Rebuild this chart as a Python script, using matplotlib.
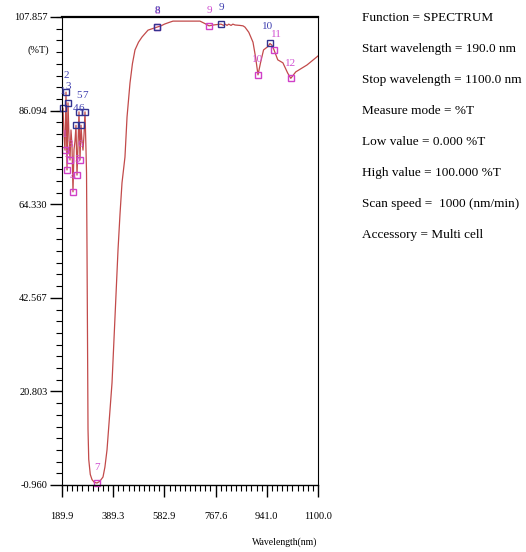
import numpy as np
from matplotlib import pyplot as plt
from matplotlib.ticker import FixedLocator, AutoMinorLocator

plt.rcParams['font.family'] = ['Liberation Serif', 'DejaVu Serif']

# ----- DATA ----- #

# Spectrum trace (wavelength [nm], transmittance [%T])
wl = [189.9, 193.8, 197.7, 201.6, 205.5, 209.4, 213.3, 217.2, 221.1, 224.9,
      228.8, 232.7, 236.6, 240.5, 244.4, 248.3, 252.2, 256.1, 260.0, 263.9,
      267.8, 271.7, 275.6, 279.5, 283.4, 285.4, 287.3, 289.5, 291.2, 294.0,
      300.0, 306.7, 315.0, 326.2, 337.0, 349.6, 357.0, 365.2, 375.0, 384.7,
      396.1, 407.5, 415.0, 422.6, 433.8, 441.6, 452.8, 462.0, 471.7, 485.0,
      498.2, 520.9, 540.0, 554.8, 570.0, 582.9, 600.0, 613.9, 639.2, 670.0,
      711.2, 730.0, 743.7, 760.0, 772.0, 785.8, 795.0, 800.0, 806.3, 812.0,
      820.0, 826.0, 833.3, 850.0, 860.4, 867.1, 880.0, 894.2, 903.0, 911.2,
      920.0, 930.0, 944.7, 950.9, 957.0, 963.4, 975.0, 991.0, 1006.0, 1015.5,
      1031.0, 1065.8, 1096.8, 1100.0]
T = [83.9, 86.7, 80.4, 76.9, 90.4, 72.3, 87.9, 80.0, 74.6, 81.6,
     78.1, 67.2, 77.0, 79.0, 82.7, 71.1, 78.0, 85.8, 74.6, 82.7,
     79.0, 76.9, 80.5, 85.8, 76.9, 71.6, 53.7, 30.4, 12.0, 5.0,
     1.5, 0.3, -0.3, -0.5, -0.1, 0.9, 3.2, 7.2, 15.0, 22.8,
     38.1, 53.7, 62.0, 69.3, 75.3, 84.6, 92.5, 97.0, 100.2, 102.0,
     103.2, 104.8, 105.2, 105.5, 105.8, 106.2, 106.6, 106.9, 106.9, 106.9,
     106.9, 106.3, 105.8, 106.0, 106.1, 106.2, 105.9, 106.2, 105.9, 106.2,
     105.9, 106.2, 106.0, 105.9, 105.8, 105.5, 104.3, 102.0, 98.5, 94.4,
     97.3, 100.2, 101.0, 101.7, 101.3, 100.2, 97.9, 97.2, 94.8, 93.6,
     95.1, 96.7, 98.6, 98.8]

# Peak picks (blue) and valley picks (magenta)
peak_wl = [193.8, 205.5, 213.3, 244.4, 256.1, 263.9, 279.5, 554.8, 785.8, 950.9]
peak_T = [86.7, 90.4, 87.9, 82.7, 85.8, 82.7, 85.8, 105.5, 106.2, 101.7]
valley_wl = [201.6, 209.4, 221.1, 232.7, 248.3, 260.0, 326.2, 556.8, 743.7, 911.2, 963.4, 1015.5]
valley_T = [76.9, 72.3, 74.6, 67.2, 71.1, 74.6, -0.5, 105.5, 105.8, 94.4, 100.2, 93.6]

x_ticks = [189.9, 389.3, 582.9, 767.6, 941.0, 1100.0]
y_ticks = [-0.960, 20.803, 42.567, 64.330, 86.094, 107.857]

info = ['Function = SPECTRUM',
        'Start wavelength = 190.0 nm',
        'Stop wavelength = 1100.0 nm',
        'Measure mode = %T',
        'Low value = 0.000 %T',
        'High value = 100.000 %T',
        'Scan speed =  1000 (nm/min)',
        'Accessory = Multi cell']

# ----- PLOT ----- #

tick_pos = np.arange(len(x_ticks))


def fwd(x):
    return np.interp(x, x_ticks, tick_pos)


def inv(p):
    return np.interp(p, tick_pos, x_ticks)


fig = plt.figure(figsize=(5.26, 5.52), dpi=100)
ax = fig.add_axes([62/526, 67/552, 256/526, 468/552])
ax.set_xscale('function', functions=(fwd, inv))

ax.plot(wl, T, color='#c24a4a', lw=0.9)

ax.plot(valley_wl, valley_T, 's', mfc='none', mec='#d040c8', ms=4, mew=1.0, clip_on=False)
ax.plot(peak_wl, peak_T, 's', mfc='none', mec='#33338f', ms=4, mew=1.0, clip_on=False)

for i, (x, y) in enumerate(zip(valley_wl, valley_T)):
    dx = 2 if i == 10 else 0
    ax.annotate(str(i + 1), (x, y), xytext=(dx, 11), textcoords='offset points',
                ha='center', va='center', fontsize=8, color='#d050d0', annotation_clip=False)
for i, (x, y) in enumerate(zip(peak_wl, peak_T)):
    dx = -1.5 if i == 9 else 0
    ax.annotate(str(i + 1), (x, y), xytext=(dx, 12), textcoords='offset points',
                ha='center', va='center', fontsize=8, color='#4040b0', annotation_clip=False)

ax.set_xlim(x_ticks[0], x_ticks[-1])
ax.set_ylim(y_ticks[0], y_ticks[-1])
ax.xaxis.set_major_locator(FixedLocator(x_ticks))
ax.xaxis.set_minor_locator(FixedLocator(inv(np.linspace(0, 5, 51))))
ax.set_xticklabels([f'{v:.1f}' for v in x_ticks])
ax.yaxis.set_major_locator(FixedLocator(y_ticks))
ax.yaxis.set_minor_locator(AutoMinorLocator(8))
ax.set_yticklabels([f'{v:.3f}' for v in y_ticks])

ax.tick_params(which='major', direction='out', length=8.5, width=1.0, labelsize=7.5)
ax.tick_params(axis='x', which='major', pad=11)
ax.tick_params(axis='y', which='major', pad=2)
ax.tick_params(which='minor', direction='out', length=4, width=0.8)

ax.spines['top'].set_linewidth(1.6)
ax.spines['bottom'].set_linewidth(1.0)
ax.spines['left'].set_linewidth(0.8)
ax.spines['right'].set_linewidth(0.8)

fig.text(38/526, 1 - 50/552, '(%T)', ha='center', va='center', fontsize=7.5)
fig.text(317/526, 1 - 542/552, 'Wavelength(nm)', ha='right', va='center', fontsize=7)

for k, line in enumerate(info):
    fig.text(362/526, 1 - (18 + 31*k)/552, line, ha='left', va='center', fontsize=9.5)

plt.savefig('out.png', dpi=100)
